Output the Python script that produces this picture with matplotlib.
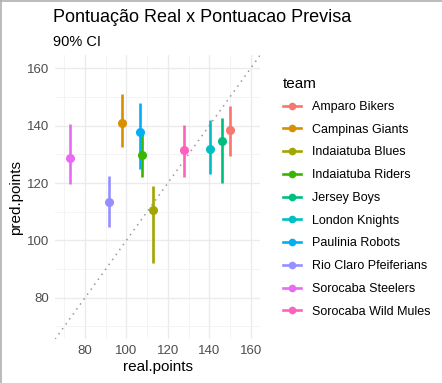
import numpy as np
import matplotlib.pyplot as plt
from matplotlib.lines import Line2D

plt.rcParams['font.family'] = ['Liberation Sans', 'DejaVu Sans']

teams = ['Amparo Bikers', 'Campinas Giants', 'Indaiatuba Blues', 'Indaiatuba Riders',
         'Jersey Boys', 'London Knights', 'Paulinia Robots', 'Rio Claro Pfeiferians',
         'Sorocaba Steelers', 'Sorocaba Wild Mules']
real_points = [150.0, 98.0, 113.0, 107.4, 146.3, 140.4, 106.7, 91.6, 72.8, 128.0]
pred_points = [138.5, 140.8, 110.5, 129.7, 134.6, 131.8, 137.7, 113.3, 128.6, 131.5]
pred_low = [129.4, 132.7, 92.0, 122.2, 120.1, 123.0, 125.0, 104.5, 119.5, 122.2]
pred_high = [146.9, 151.0, 119.1, 137.3, 142.8, 142.0, 147.8, 122.5, 140.6, 140.2]
colors = ['#F8766D', '#D89000', '#A3A500', '#39B600', '#00BF7D',
          '#00BFC4', '#00B0F6', '#9590FF', '#E76BF3', '#FF62BC']

fig = plt.figure(figsize=(4.42, 3.83), dpi=100)
ax = fig.add_axes([55 / 442, 1 - 339.3 / 383, 205 / 442, 283.9 / 383])

# 1:1 reference line
ax.axline((0, 0), slope=1, color='#999999', linestyle=(0, (1, 3)), linewidth=1.1, zorder=1)

handles = []
for t, x, y, lo, hi, c in zip(teams, real_points, pred_points, pred_low, pred_high, colors):
    ax.vlines(x, lo, hi, color=c, linewidth=1.9, zorder=3)
    ax.plot(x, y, 'o', color=c, markersize=5.5, zorder=4)
    handles.append(Line2D([0], [0], color=c, linewidth=1.9, marker='o', markersize=4.5, label=t))

lims = (65.5, 164.5)
ax.set_xlim(lims)
ax.set_ylim(lims)
ticks = [80, 100, 120, 140, 160]
ax.set_xticks(ticks)
ax.set_yticks(ticks)
ax.set_xticks([70, 90, 110, 130, 150], minor=True)
ax.set_yticks([70, 90, 110, 130, 150], minor=True)
ax.grid(True, which='major', color='#EBEBEB', linewidth=1.0)
ax.grid(True, which='minor', color='#F2F2F2', linewidth=0.6)
ax.set_axisbelow(True)
for s in ax.spines.values():
    s.set_visible(False)
ax.tick_params(which='both', length=0, labelsize=9.5, labelcolor='#4D4D4D', pad=4)
ax.set_xlabel('real.points', fontsize=11, labelpad=2)
ax.set_ylabel('pred.points', fontsize=11, labelpad=3)

fig.text(53 / 442, 1 - 17 / 383, 'Pontuação Real x Pontuacao Previsa', fontsize=13,
         va='center', ha='left')
fig.text(53 / 442, 1 - 42 / 383, '90% CI', fontsize=10.5, va='center', ha='left')

leg = fig.legend(handles=handles, title='team', loc='upper left',
                 bbox_to_anchor=(272 / 442, 1 - 66 / 383), frameon=False,
                 fontsize=9, title_fontsize=11, handlelength=1.4, handletextpad=0.9,
                 labelspacing=0.86)
leg._legend_box.align = 'left'
# a bit more room between title and first key, as in the reference
leg._legend_box.sep = 7

# screenshot frame on left and top
fig.add_artist(Line2D([0.5 / 442, 0.5 / 442], [0, 1], color='#B0B0B0', linewidth=1.2))
fig.add_artist(Line2D([0, 1], [1 - 0.5 / 383, 1 - 0.5 / 383], color='#B0B0B0', linewidth=1.2))

fig.savefig('out.png', dpi=100)
